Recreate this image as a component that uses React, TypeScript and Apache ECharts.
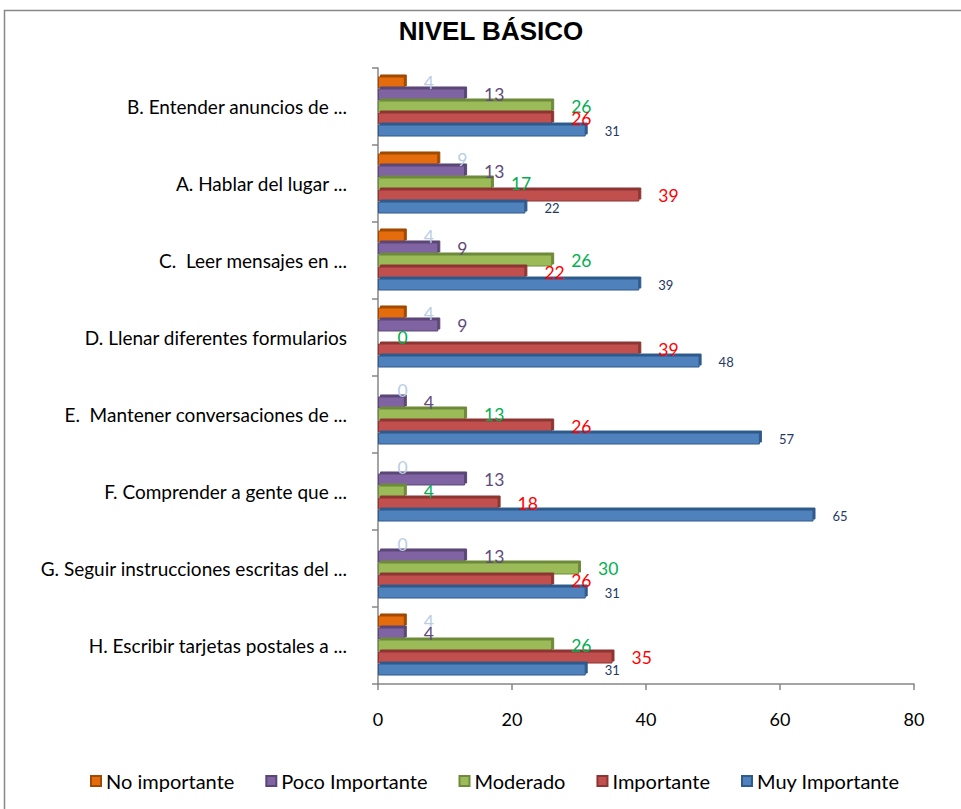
import React, { useEffect, useRef } from "react";
import * as echarts from "echarts";

const categories = [
  "B. Entender anuncios de ...",
  "A. Hablar del lugar ...",
  "C.  Leer mensajes en ...",
  "D. Llenar diferentes formularios",
  "E.  Mantener conversaciones de ...",
  "F. Comprender a gente que ...",
  "G. Seguir instrucciones escritas del ...",
  "H. Escribir tarjetas postales a ...",
];
const noImportante = [4, 9, 4, 4, 0, 0, 0, 4];
const pocoImportante = [13, 13, 9, 9, 4, 13, 13, 4];
const moderado = [26, 17, 26, 0, 13, 4, 30, 26];
const importante = [26, 39, 22, 39, 26, 18, 26, 35];
const muyImportante = [31, 22, 39, 48, 57, 65, 31, 31];
const xTicks = [0, 20, 40, 60, 80];

const FONT = "Lato";

function mkSeries(name: string, data: number[], color: string, side: string, labelColor: string, labelSize: number) {
  return {
    name,
    type: "bar",
    data,
    barGap: "0%",
    barCategoryGap: "22%",
    itemStyle: {
      color,
      borderColor: side,
      borderWidth: 1,
      shadowColor: side,
      shadowBlur: 0,
      shadowOffsetX: 2,
      shadowOffsetY: -2,
    },
    label: {
      show: true,
      position: "right",
      distance: 19,
      color: labelColor,
      fontSize: labelSize,
      fontFamily: FONT,
    },
  };
}

export default function App() {
  const ref = useRef<HTMLDivElement>(null);
  useEffect(() => {
    if (!ref.current) return;
    const chart = echarts.init(ref.current, undefined, { renderer: "svg" });
    chart.setOption({
      animation: false,
      graphic: [
        {
          type: "rect",
          shape: { x: 4.5, y: 10.5, width: 970, height: 810 },
          style: { fill: "none", stroke: "#888888", lineWidth: 1.5 },
          silent: true,
        },
        {
          type: "text",
          x: 491,
          y: 31,
          style: {
            text: "NIVEL BÁSICO",
            fontFamily: "Liberation Sans",
            fontWeight: "bold",
            fontSize: 26,
            fill: "#000",
            textAlign: "center",
            textVerticalAlign: "middle",
          },
          silent: true,
        },
      ],
      legend: {
        data: ["No importante", "Poco Importante", "Moderado", "Importante", "Muy Importante"],
        left: 85,
        top: 766,
        itemWidth: 10,
        itemHeight: 10,
        itemGap: 31,
        icon: "rect",
        textStyle: { fontFamily: FONT, fontSize: 20, color: "#000" },
      },
      grid: { left: 378, right: 47, top: 68, bottom: 125, containLabel: false },
      xAxis: {
        type: "value",
        min: 0,
        max: 80,
        interval: 20,
        axisLine: { show: true, lineStyle: { color: "#868686", width: 1.5 } },
        axisTick: { show: true, length: 6, lineStyle: { color: "#868686", width: 1.5 } },
        splitLine: { show: false },
        axisLabel: {
          margin: 26,
          fontFamily: FONT,
          fontSize: 18,
          color: "#000",
          formatter: (v: number) => (xTicks.includes(v) ? String(v) : ""),
        },
      },
      yAxis: {
        type: "category",
        data: categories,
        inverse: true,
        axisLine: { show: true, lineStyle: { color: "#868686", width: 1.5 } },
        axisTick: { show: true, length: 6, lineStyle: { color: "#868686", width: 1.5 } },
        axisLabel: { margin: 31, fontFamily: FONT, fontSize: 19, color: "#000" },
      },
      series: [
        mkSeries("No importante", noImportante, "#E46C0A", "#A14A04", "#B9CDE5", 17.5),
        mkSeries("Poco Importante", pocoImportante, "#8064A2", "#5A4675", "#604A7B", 17.5),
        mkSeries("Moderado", moderado, "#9BBB59", "#6E8A3A", "#00B050", 17.5),
        mkSeries("Importante", importante, "#C0504D", "#8C3532", "#FF0000", 17.5),
        mkSeries("Muy Importante", muyImportante, "#4F81BD", "#2F5A8C", "#1F3864", 13),
      ],
    });
    return () => chart.dispose();
  }, []);
  return <div ref={ref} style={{ position: "absolute", left: 0, top: 0, width: 961, height: 809 }} />;
}
